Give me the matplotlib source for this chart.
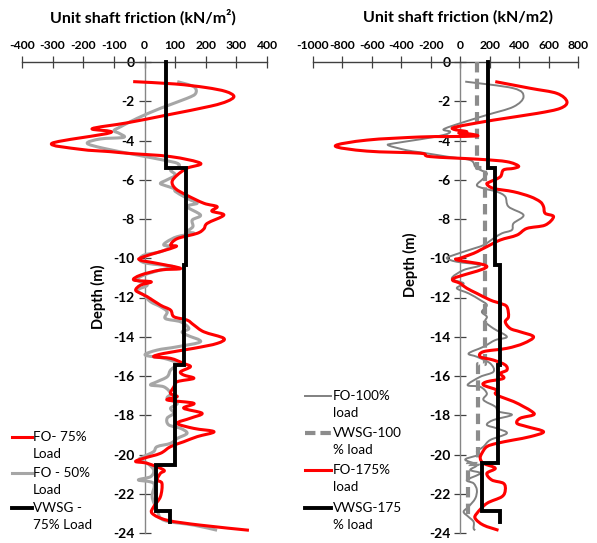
import matplotlib
matplotlib.use('Agg')
import matplotlib.pyplot as plt
import numpy as np
from matplotlib.lines import Line2D
from matplotlib.path import Path
from matplotlib.patches import PathPatch

plt.rcParams['font.family'] = ['Lato', 'DejaVu Sans']
plt.rcParams['axes.unicode_minus'] = False

# ---------------- data ----------------
# Left panel: FO 75% load
fo75_val = [-37, 100, 200, 265, 292, 270, 216, 74, -57, -171, -111, -302, -209, -111, -57, 85, 183, 139, 107, 90, 101,
            137, 194, 237, 220, 259, 205, 194, 172, 107, 85, 101, -2, -15, 41, 118, 52, -13, -35, 22, -13, -29, -13, 9,
            52, 85, 96, 139, 161, 194, 259, 237, 161, 63, 30, 85, 128, 150, 118, 128, 161, 107, 96, 85, 107, 74, 161,
            128, 188, 150, 107, 161, 227, 172, 128, 85, 52, -2, -29, 9, 63, 52, 41, 57, 52, 30, 25, 74, 183, 341]
fo75_dep = [-1.0, -1.12, -1.3, -1.5, -1.75, -2.0, -2.25, -2.7, -3.1, -3.4, -3.6, -4.14, -4.45, -4.57, -4.65, -4.82, -5.16,
            -5.41, -5.76, -6.1, -6.45, -6.78, -7.2, -7.37, -7.6, -7.8, -8.22, -8.5, -8.73, -9.0, -9.33, -9.42, -9.92,
            -10.09, -10.26, -10.52, -10.6, -10.86, -11.11, -11.2, -11.37, -11.62, -11.79, -11.96, -12.39, -12.64,
            -12.98, -13.15, -13.4, -13.75, -14.08, -14.34, -14.59, -14.85, -15.02, -15.1, -15.36, -15.53, -15.78,
            -15.95, -16.12, -16.29, -16.55, -16.89, -17.05, -17.22, -17.39, -17.64, -17.9, -18.15, -18.41, -18.67,
            -18.84, -19.09, -19.35, -19.6, -19.94, -20.19, -20.36, -20.45, -20.79, -20.96, -21.3, -21.47, -22.15,
            -22.66, -23.0, -23.35, -23.6, -23.86]

# Left panel: FO 50% load
fo50_val = [107, 161, 167, 139, 52, -24, -78, -100, -82, -68, -144, -187, -133, -24, 63, 107, 112, 85, 101, 74, 52, 68,
            96, 101, 129, 150, 172, 139, 183, 156, 158, 139, 161, 107, 74, 63, 85, 52, -2, -15, 9, 96, 52, -2, -24, 9,
            -24, -2, 20, 52, 74, 68, 118, 145, 123, 139, 183, 107, 41, 2, 63, 107, 85, 74, 41, 20, 63, 85, 74, 107, 85,
            96, 74, 79, 118, 139, 107, 85, 41, 30, -2, -18, 9, 30, 20, -20, 30, 25, 41, 63, 161, 237]
fo50_dep = [-1.0, -1.26, -1.6, -1.85, -2.36, -2.87, -3.3, -3.5, -3.64, -3.84, -3.92, -4.14, -4.4, -4.74, -5.0, -5.16,
            -5.33, -5.5, -5.76, -6.0, -6.18, -6.3, -6.45, -6.6, -6.86, -7.03, -7.2, -7.37, -7.8, -8.05, -8.39, -8.65,
            -8.73, -8.9, -9.15, -9.33, -9.41, -9.67, -9.84, -10.09, -10.26, -10.43, -10.6, -10.86, -11.11, -11.37,
            -11.62, -11.88, -12.22, -12.47, -12.73, -13.07, -13.24, -13.58, -13.75, -13.92, -14.25, -14.51, -14.68,
            -14.93, -15.1, -15.36, -15.7, -16.04, -16.29, -16.46, -16.55, -16.89, -17.14, -17.39, -17.64, -17.9,
            -18.15, -18.49, -18.67, -18.92, -19.18, -19.43, -19.6, -19.85, -20.1, -20.27, -20.45, -20.79, -21.13,
            -21.3, -21.47, -22.15, -22.83, -23.35, -23.6, -23.86]

# Left panel: VWSG 75% load (stepped)
vw75_val = [70, 70, 137, 137, 128, 128, 99, 99, 38, 38, 83, 83]
vw75_dep = [0, -5.4, -5.4, -10.35, -10.35, -15.45, -15.45, -20.55, -20.55, -22.9, -22.9, -23.45]

# Right panel: FO 100% load
fo100_val = [34, 362, 430, 362, 181, 0, -113, -68, -113, -272, -453, -487, -362, -272, -91, 68, 102, 136, 181, 158, 113,
             158, 249, 306, 328, 430, 362, 351, 283, 226, 158, 60, -45, -91, -23, 136, 23, -57, 23, -23, 57, 136, 181,
             147, 181, 170, 226, 317, 238, 158, 57, 113, 204, 226, 136, 50, 136, 181, 158, 238, 260, 351, 226, 181, 249,
             317, 204, 158, 113, 136, 91, 34, 113, 68, 136, 45, 91, 113, 102, 57, 23, 57, 91, 91, 102]
fo100_dep = [-1.0, -1.34, -1.77, -2.28, -2.7, -3.12, -3.43, -3.55, -3.72, -3.94, -4.15, -4.25, -4.5, -4.6, -4.82, -5.0,
             -5.33, -5.5, -5.67, -5.93, -6.27, -6.44, -6.61, -6.86, -7.37, -7.8, -8.22, -8.56, -8.73, -8.99, -9.33,
             -9.58, -9.84, -10.0, -10.18, -10.35, -10.6, -11.03, -11.28, -11.53, -11.79, -12.13, -12.39, -12.73,
             -12.98, -13.24, -13.58, -14.0, -14.17, -14.51, -14.85, -15.02, -15.36, -15.78, -16.04, -16.46, -16.55,
             -16.89, -17.22, -17.56, -17.81, -17.98, -18.24, -18.49, -18.67, -18.92, -19.26, -19.6, -19.85, -20.02,
             -20.1, -20.27, -20.53, -20.79, -20.96, -21.3, -21.47, -21.81, -22.24, -22.66, -22.92, -23.18, -23.43,
             -23.77, -23.86]

# Right panel: VWSG 100% load (stepped, dashed)
vw100_val = [113, 113, 165, 165, 120, 120, 50, 50]
vw100_dep = [0, -5.42, -5.42, -15.4, -15.4, -20.5, -20.5, -23.2]

# Right panel: FO 175% load
fo175_val = [238, 476, 657, 725, 680, 521, 226, -23, -45, 45, -10, 68, 113, -91, -272, -634, -849, -634, -272, -204,
             136, 317, 396, 362, 294, 272, 204, 181, 226, 362, 476, 543, 566, 577, 634, 577, 453, 385, 272, 181, 136,
             91, 0, -20, 181, -45, 0, 45, 113, 204, 272, 317, 328, 306, 340, 408, 498, 430, 317, 158, 136, 226, 306,
             317, 272, 294, 181, 158, 249, 238, 272, 362, 430, 487, 498, 408, 385, 453, 566, 476, 362, 249, 181, 147,
             136, 158, 238, 181, 215, 294, 306, 283, 181, 113, 102, 158, 260]
fo175_dep = [-1.0, -1.34, -1.6, -2.02, -2.36, -2.62, -2.96, -3.3, -3.43, -3.55, -3.62, -3.67, -3.77, -3.8, -3.82,
             -3.98, -4.28, -4.54, -4.65, -4.82, -4.96, -5.08, -5.3, -5.42, -5.5, -5.85, -6.1, -6.22, -6.44, -6.61,
             -6.86, -7.12, -7.37, -7.71, -7.88, -8.31, -8.48, -8.82, -9.07, -9.41, -9.58, -9.75, -10.0, -10.09,
             -10.43, -11.03, -11.28, -11.53, -11.79, -12.13, -12.3, -12.47, -12.98, -13.24, -13.58, -13.75, -14.0,
             -14.34, -14.59, -14.76, -15.02, -15.19, -15.44, -15.7, -15.87, -16.12, -16.29, -16.46, -16.72, -16.89,
             -17.05, -17.3, -17.56, -17.81, -17.98, -18.15, -18.41, -18.58, -18.84, -19.09, -19.26, -19.43, -19.6,
             -19.94, -20.19, -20.45, -20.7, -20.96, -21.3, -21.47, -21.81, -22.15, -22.49, -23.0, -23.26, -23.6,
             -23.86]

# Right panel: VWSG 175% load (stepped)
vw175_val = [192, 192, 238, 238, 267, 267, 254, 254, 147, 147, 272, 272]
vw175_dep = [0, -5.38, -5.38, -10.35, -10.35, -15.44, -15.44, -20.45, -20.45, -22.9, -22.9, -23.43]

left_xticks = [-400, -300, -200, -100, 0, 100, 200, 300, 400]
right_xticks = [-1000, -800, -600, -400, -200, 0, 200, 400, 600, 800]
yticks = [0, -2, -4, -6, -8, -10, -12, -14, -16, -18, -20, -22, -24]

# ---------------- figure ----------------
W, H = 597, 543
fig = plt.figure(figsize=(W / 100, H / 100), dpi=100)
axL = fig.add_axes([22 / W, 1 - 533 / H, (267 - 22) / W, (533 - 62) / H])
axR = fig.add_axes([313 / W, 1 - 533 / H, (578 - 313) / W, (533 - 62) / H])


def style(ax, xticks):
    ax.set_xlim(xticks[0], xticks[-1])
    ax.set_ylim(-24, 0)
    ax.patch.set_alpha(0)
    ax.spines['right'].set_visible(False)
    ax.spines['bottom'].set_visible(False)
    ax.spines['left'].set_position(('data', 0))
    ax.spines['left'].set_color('#868686')
    ax.spines['left'].set_linewidth(1.0)
    ax.spines['top'].set_color('#404040')
    ax.spines['top'].set_linewidth(1.0)
    ax.xaxis.tick_top()
    ax.set_xticks(xticks)
    ax.set_xticklabels([str(v) for v in xticks], fontsize=8.7, fontweight='bold')
    ax.set_yticks(yticks)
    ax.set_yticklabels([str(v) for v in yticks], fontsize=10, fontweight='bold')
    ax.tick_params(axis='x', direction='inout', length=8, width=0.9, color='#404040', pad=4)
    ax.tick_params(axis='y', direction='inout', length=8, width=0.9, color='#404040', pad=3)


style(axL, left_xticks)
style(axR, right_xticks)


def smooth_line(ax, xs, ys, **kw):
    """Excel-style smoothed line: cubic Bezier through the data points."""
    p = np.column_stack([xs, ys]).astype(float)
    verts = [p[0]]
    codes = [Path.MOVETO]
    n = len(p)
    for i in range(n - 1):
        p0 = p[i - 1] if i > 0 else p[i]
        p1, p2 = p[i], p[i + 1]
        p3 = p[i + 2] if i + 2 < n else p[i + 1]
        verts += [p1 + (p2 - p0) / 6.0, p2 - (p3 - p1) / 6.0, p2]
        codes += [Path.CURVE4] * 3
    patch = PathPatch(Path(verts, codes), fill=False, clip_on=False, capstyle='butt',
                      joinstyle='round', **kw)
    ax.add_patch(patch)


smooth_line(axL, fo50_val, fo50_dep, edgecolor='#a6a6a6', lw=2.2, zorder=3)
smooth_line(axL, fo75_val, fo75_dep, edgecolor='#ff0000', lw=2.2, zorder=4)
axL.plot(vw75_val, vw75_dep, color='black', lw=2.8, clip_on=False, zorder=5, solid_joinstyle='miter')

smooth_line(axR, fo100_val, fo100_dep, edgecolor='#808080', lw=1.4, zorder=3)
axR.plot(vw100_val, vw100_dep, color='#8c8c8c', lw=3.0, ls=(0, (2.5, 1.5)), clip_on=False, zorder=3)
smooth_line(axR, fo175_val, fo175_dep, edgecolor='#ff0000', lw=2.2, zorder=4)
axR.plot(vw175_val, vw175_dep, color='black', lw=2.8, clip_on=False, zorder=5, solid_joinstyle='miter')

# titles and axis labels
fig.text(143 / W, 1 - 17 / H, 'Unit shaft friction (kN/m²)', ha='center', va='center',
         fontsize=11.5, fontweight='bold')
fig.text(458 / W, 1 - 17 / H, 'Unit shaft friction (kN/m2)', ha='center', va='center',
         fontsize=11.5, fontweight='bold')
fig.text(98 / W, 1 - 297 / H, 'Depth (m)', rotation=90, ha='center', va='center',
         fontsize=10.5, fontweight='bold')
fig.text(410 / W, 1 - 265 / H, 'Depth (m)', rotation=90, ha='center', va='center',
         fontsize=10.5, fontweight='bold')


# legends (Excel style: handle aligned with first text line)
def legend_entry(x0, x1, xt, y, line1, line2, color, lw, ls='-'):
    fig.add_artist(Line2D([x0 / W, x1 / W], [1 - y / H, 1 - y / H], color=color, lw=lw, ls=ls,
                          transform=fig.transFigure))
    fig.text(xt / W, 1 - y / H, line1, ha='left', va='center', fontsize=9.7)
    fig.text(xt / W, 1 - (y + 17) / H, line2, ha='left', va='center', fontsize=9.7)


legend_entry(12, 32, 33, 437, 'FO- 75%', 'Load', '#ff0000', 2.2)
legend_entry(12, 32, 33, 473, 'FO - 50%', 'Load', '#a6a6a6', 2.2)
legend_entry(12, 32, 33, 508, 'VWSG -', '75% Load', 'black', 2.8)

legend_entry(305, 331, 333, 396, 'FO-100%', 'load', '#808080', 1.4)
legend_entry(305, 331, 333, 433, 'VWSG-100', '% load', '#8c8c8c', 3.0, (0, (2.5, 1.2)))
legend_entry(305, 331, 333, 470, 'FO-175%', 'load', '#ff0000', 2.2)
legend_entry(305, 331, 333, 508, 'VWSG-175', '% load', 'black', 2.8)

fig.savefig('out.png', dpi=100)
